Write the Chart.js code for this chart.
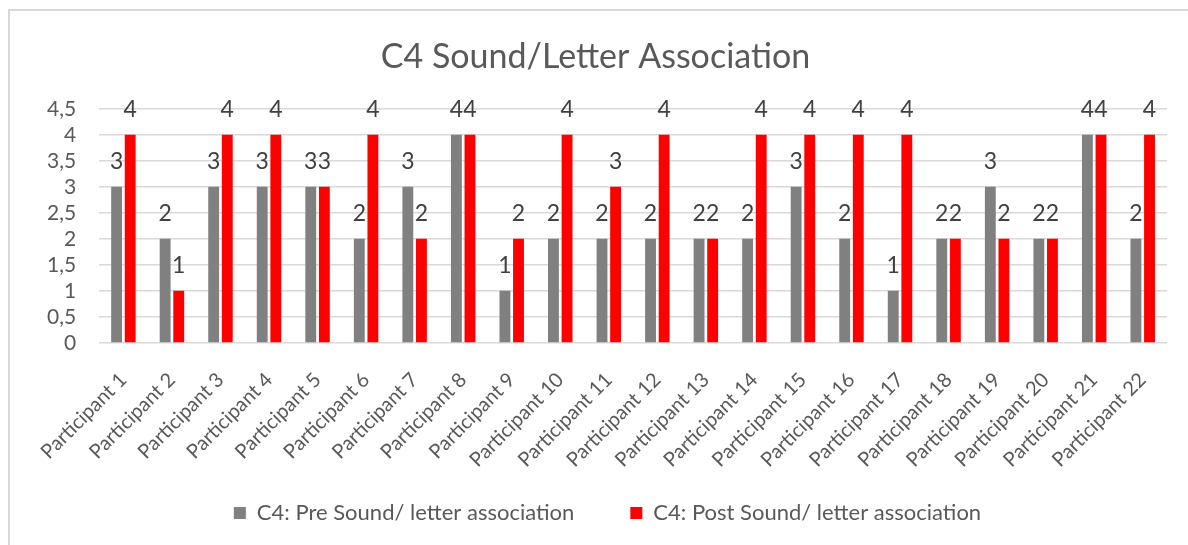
<!DOCTYPE html>
<html>
<head>
<meta charset="utf-8">
<script src="https://cdn.jsdelivr.net/npm/chart.js@4/dist/chart.umd.min.js"></script>
<style>
  html, body { margin: 0; padding: 0; background: #fff; overflow: hidden; }
  #wrap { position: absolute; left: 0; top: 0; width: 1188px; height: 545px; }
  #frame { position: absolute; left: 8px; top: 9px; width: 1300px; height: 700px; border: 2px solid #d9d9d9; pointer-events: none; }
</style>
</head>
<body>
<div id="wrap"><canvas id="Chart"></canvas></div>
<div id="frame"></div>
<script>
const participants = ["Participant 1","Participant 2","Participant 3","Participant 4","Participant 5","Participant 6","Participant 7","Participant 8","Participant 9","Participant 10","Participant 11","Participant 12","Participant 13","Participant 14","Participant 15","Participant 16","Participant 17","Participant 18","Participant 19","Participant 20","Participant 21","Participant 22"];
const preValues  = [3,2,3,3,3,2,3,4,1,2,2,2,2,2,3,2,1,2,3,2,4,2];
const postValues = [4,1,4,4,3,4,2,4,2,4,3,4,2,4,4,4,4,2,2,2,4,4];
const yTicks = [0,0.5,1,1.5,2,2.5,3,3.5,4,4.5];
const preLabel = "C4: Pre Sound/ letter association";
const postLabel = "C4: Post Sound/ letter association";
const chartTitle = "C4 Sound/Letter Association";

const FONT = "Lato, 'Open Sans', sans-serif";
const TEXT = "#595959";
const LEGEND_GAP = 56;   // space between legend items
const LEGEND_TOP = 13;   // space above legend text

// draws the value above every bar
const valueLabels = {
    id: "valueLabels",
    afterDatasetsDraw(chart) {
        const ctx = chart.ctx;
        ctx.save();
        ctx.font = "23px " + FONT;
        ctx.fillStyle = "#404040";
        ctx.textAlign = "center";
        ctx.textBaseline = "middle";
        chart.data.datasets.forEach((ds, i) => {
            chart.getDatasetMeta(i).data.forEach((bar, j) => {
                ctx.fillText(String(ds.data[j]), bar.x, bar.y - 25);
            });
        });
        ctx.restore();
    }
};

// legend padding sets both item gap and top gap; pull the text back up
const legendShift = {
    id: "legendShift",
    afterLayout(chart) {
        const lg = chart.legend;
        lg.top -= (LEGEND_GAP - LEGEND_TOP);
        lg.left += 12;
        lg.right += 12;
    }
};

var myChart;
function init_chart()
{
    const ctx = document.getElementById("Chart");
    myChart = new Chart(ctx, {
        type: "bar",
        data: {
            labels: participants,
            datasets: [
                {
                label: preLabel,
                backgroundColor: "#808080",
                data: preValues,
                categoryPercentage: 0.56,
                barPercentage: 0.8
                },
                {
                label: postLabel,
                backgroundColor: "#ff0000",
                data: postValues,
                categoryPercentage: 0.56,
                barPercentage: 0.8
                },
            ],
        },
        options: {
            maintainAspectRatio: false,
            responsive: true,
            animation: false,
            layout: { padding: { top: 37, right: 21, left: 24, bottom: 6 } },
            plugins: {
                title: {
                    display: true,
                    text: chartTitle,
                    color: TEXT,
                    font: { family: FONT, size: 34, weight: "normal" },
                    padding: { top: 0, bottom: 31 }
                },
                legend: {
                    position: "bottom",
                    maxHeight: 50,
                    labels: {
                        color: TEXT,
                        font: { family: FONT, size: 22 },
                        boxWidth: 12,
                        boxHeight: 12,
                        padding: LEGEND_GAP
                    }
                },
                tooltip: { enabled: false }
            },
            scales: {
                y: {
                    min: 0,
                    max: 4.5,
                    afterBuildTicks: axis => { axis.ticks = yTicks.map(v => ({ value: v })); },
                    ticks: {
                        color: TEXT,
                        font: { family: FONT, size: 21 },
                        padding: 23,
                        autoSkip: false,
                        callback: v => String(v).replace(".", ",")
                    },
                    grid: { color: "#d9d9d9", lineWidth: 1.5, drawTicks: false },
                    border: { display: false }
                },
                x: {
                    ticks: {
                        color: TEXT,
                        font: { family: FONT, size: 20 },
                        minRotation: 45,
                        maxRotation: 45,
                        autoSkip: false,
                        padding: 17
                    },
                    grid: { display: false },
                    border: { display: false }
                }
            }
        },
        plugins: [valueLabels, legendShift]
    });
}
init_chart();
</script>
</body>
</html>
